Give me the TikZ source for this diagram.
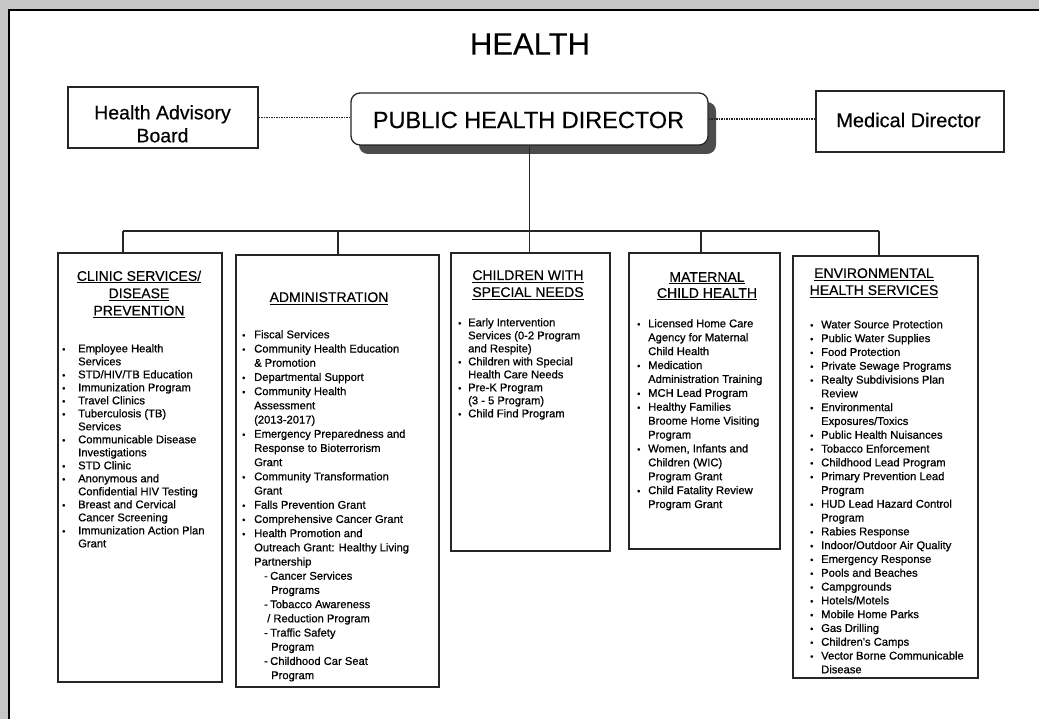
\documentclass[tikz,border=0pt]{standalone}
\usepackage{fontspec}
\setmainfont{Liberation Sans}
\newfontfamily\heavy[FakeBold=0.7]{Liberation Sans}
\newfontfamily\semiheavy[FakeBold=0.35]{Liberation Sans}
\usetikzlibrary{shadows}
\newcommand\bl[1]{\makebox[#1][l]{\fontsize{9}{9}\selectfont •}}
\newcommand\cn[1]{\hspace*{#1}}
\newcommand\sd{\makebox[28pt][l]{\hspace{22pt}-}}
\newcommand\ttl[1]{\setbox0\hbox{#1}\rlap{\rule[-2.6pt]{\wd0}{1pt}}\box0}
\begin{document}
\begin{tikzpicture}[x=1pt,y=-1pt,
  box/.style={draw=black!85, line width=1.3pt, fill=white, inner sep=0pt},
  itemtext/.style={anchor=north west, inner sep=0pt, align=left},
  titletext/.style={anchor=north, inner sep=0pt, align=center, font=\semiheavy\fontsize{14}{17}\selectfont},
  link/.style={draw=black!85, line width=1.2pt},
  dotlink/.style={draw=black!85, line width=1.3pt, dash pattern=on 1.4pt off 1.1pt}]
\useasboundingbox (0,0) rectangle (1039,719);
\fill[gray!45] (0,0) rectangle (1039,719);
\fill[white] (9,10) rectangle (1039,719);
\draw[line width=1.6pt] (9,719) -- (9,10) -- (1039,10);

\node[inner sep=0pt, font=\semiheavy\fontsize{31}{36}\selectfont] (title) at (530,44) {HEALTH};

% top row
\node[box, minimum width=190pt, minimum height=61pt] (hab) at (163,117.5) {};
\node[anchor=north, inner sep=0pt, align=center, font=\semiheavy\fontsize{19.5}{23}\selectfont] (habt) at (162.5,105) {Health Advisory\\Board};
\node[box, rounded corners=9pt, minimum width=357pt, minimum height=52pt,
      drop shadow={shadow xshift=8pt, shadow yshift=-9pt, fill=black!70, opacity=1}] (dir) at (529.5,119) {};
\node[inner sep=0pt, font=\semiheavy\fontsize{23.5}{28}\selectfont] (dirt) at (528.5,120) {PUBLIC HEALTH DIRECTOR};
\node[box, minimum width=188pt, minimum height=61pt] (md) at (910,121.5) {};
\node[inner sep=0pt, font=\semiheavy\fontsize{20}{24}\selectfont] (mdt) at (908.5,120) {Medical Director};

\draw[dotlink] (hab.east) -- (hab.east -| dir.west);
\draw[dotlink] (dir.east) -- (dir.east -| md.west);

% department boxes
\node[box, minimum width=164pt, minimum height=429pt] (cl) at (140,467.5) {};
\node[box, minimum width=203pt, minimum height=432pt] (ad) at (337.5,471) {};
\node[box, minimum width=159pt, minimum height=298pt] (ch) at (530.5,402) {};
\node[box, minimum width=151pt, minimum height=296pt] (mc) at (704.5,401) {};
\node[box, minimum width=185pt, minimum height=422pt] (en) at (885.5,467) {};

% connectors
\coordinate (b1) at (123,231);
\coordinate (b2) at (338,231);
\coordinate (b4) at (701,231);
\coordinate (b5) at (879,231);
\draw[link] (dir.south) -- (dir.south |- ch.north);
\draw[link] (b1) -- (b5);
\draw[link] (b1) -- (b1 |- cl.north);
\draw[link] (b2) -- (b2 |- ad.north);
\draw[link] (b4) -- (b4 |- mc.north);
\draw[link] (b5) -- (b5 |- en.north);

% titles
\node[titletext, font=\semiheavy\fontsize{14}{17.3}\selectfont] (clt) at (139,270.5) {\ttl{CLINIC SERVICES/}\\\ttl{DISEASE}\\\ttl{PREVENTION}};
\node[titletext] (adt) at (329,292) {\ttl{ADMINISTRATION}};
\node[titletext] (cht) at (528,270) {\ttl{CHILDREN WITH}\\\ttl{SPECIAL NEEDS}};
\node[titletext, font=\semiheavy\fontsize{14}{16}\selectfont] (mct) at (707,272) {\ttl{MATERNAL}\\\ttl{CHILD HEALTH}};
\node[titletext] (ent) at (874,268) {\ttl{ENVIRONMENTAL}\\\ttl{HEALTH SERVICES}};

% lists
\node[itemtext, font=\heavy\fontsize{11.2}{13}\selectfont] (cli) at (62,344) {%
\bl{16pt}Employee Health\\
\cn{16pt}Services\\
\bl{16pt}STD/HIV/TB Education\\
\bl{16pt}Immunization Program\\
\bl{16pt}Travel Clinics\\
\bl{16pt}Tuberculosis (TB)\\
\cn{16pt}Services\\
\bl{16pt}Communicable Disease\\
\cn{16pt}Investigations\\
\bl{16pt}STD Clinic\\
\bl{16pt}Anonymous and\\
\cn{16pt}Confidential HIV Testing\\
\bl{16pt}Breast and Cervical\\
\cn{16pt}Cancer Screening\\
\bl{16pt}Immunization Action Plan\\
\cn{16pt}Grant};

\node[itemtext, font=\heavy\fontsize{11.2}{14.2}\selectfont] (adi) at (242,330) {%
\bl{12pt}Fiscal Services\\
\bl{12pt}Community Health Education\\
\cn{12pt}\& Promotion\\
\bl{12pt}Departmental Support\\
\bl{12pt}Community Health\\
\cn{12pt}Assessment\\
\cn{12pt}(2013-2017)\\
\bl{12pt}Emergency Preparedness and\\
\cn{12pt}Response to Bioterrorism\\
\cn{12pt}Grant\\
\bl{12pt}Community Transformation\\
\cn{12pt}Grant\\
\bl{12pt}Falls Prevention Grant\\
\bl{12pt}Comprehensive Cancer Grant\\
\bl{12pt}Health Promotion and\\
\cn{12pt}Outreach Grant: Healthy Living\\
\cn{12pt}Partnership\\
\sd Cancer Services\\
\cn{29pt}Programs\\
\sd Tobacco Awareness\\
\cn{25pt}/ Reduction Program\\
\sd Traffic Safety\\
\cn{29pt}Program\\
\sd Childhood Car Seat\\
\cn{29pt}Program};

\node[itemtext, font=\heavy\fontsize{11.2}{13}\selectfont] (chi) at (458,318) {%
\bl{10pt}Early Intervention\\
\cn{10pt}Services (0-2 Program\\
\cn{10pt}and Respite)\\
\bl{10pt}Children with Special\\
\cn{10pt}Health Care Needs\\
\bl{10pt}Pre-K Program\\
\cn{10pt}(3 - 5 Program)\\
\bl{10pt}Child Find Program};

\node[itemtext, font=\heavy\fontsize{11.2}{13.9}\selectfont] (mci) at (637,319) {%
\bl{11pt}Licensed Home Care\\
\cn{11pt}Agency for Maternal\\
\cn{11pt}Child Health\\
\bl{11pt}Medication\\
\cn{11pt}Administration Training\\
\bl{11pt}MCH Lead Program\\
\bl{11pt}Healthy Families\\
\cn{11pt}Broome Home Visiting\\
\cn{11pt}Program\\
\bl{11pt}Women, Infants and\\
\cn{11pt}Children (WIC)\\
\cn{11pt}Program Grant\\
\bl{11pt}Child Fatality Review\\
\cn{11pt}Program Grant};

\node[itemtext, font=\heavy\fontsize{11.2}{13.8}\selectfont] (eni) at (810,320) {%
\bl{11pt}Water Source Protection\\
\bl{11pt}Public Water Supplies\\
\bl{11pt}Food Protection\\
\bl{11pt}Private Sewage Programs\\
\bl{11pt}Realty Subdivisions Plan\\
\cn{11pt}Review\\
\bl{11pt}Environmental\\
\cn{11pt}Exposures/Toxics\\
\bl{11pt}Public Health Nuisances\\
\bl{11pt}Tobacco Enforcement\\
\bl{11pt}Childhood Lead Program\\
\bl{11pt}Primary Prevention Lead\\
\cn{11pt}Program\\
\bl{11pt}HUD Lead Hazard Control\\
\cn{11pt}Program\\
\bl{11pt}Rabies Response\\
\bl{11pt}Indoor/Outdoor Air Quality\\
\bl{11pt}Emergency Response\\
\bl{11pt}Pools and Beaches\\
\bl{11pt}Campgrounds\\
\bl{11pt}Hotels/Motels\\
\bl{11pt}Mobile Home Parks\\
\bl{11pt}Gas Drilling\\
\bl{11pt}Children's Camps\\
\bl{11pt}Vector Borne Communicable\\
\cn{11pt}Disease};
\end{tikzpicture}
\end{document}
